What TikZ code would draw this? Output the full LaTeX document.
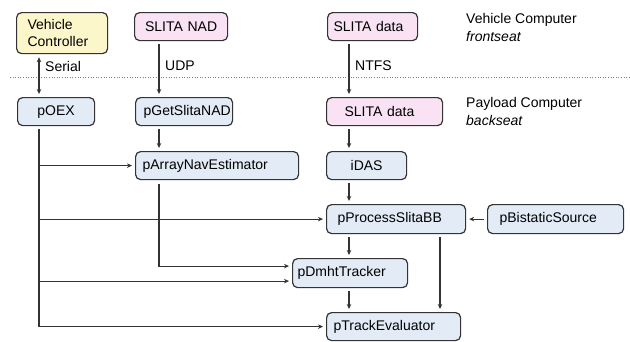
\documentclass[tikz,border=0pt]{standalone}
\usepackage{fontspec}
\setmainfont{Liberation Sans}
\usetikzlibrary{arrows.meta,calc}
\definecolor{linec}{HTML}{333333}
\definecolor{vfill}{HTML}{FBF7CB}
\definecolor{sfill}{HTML}{F8E2F4}
\definecolor{pfill}{HTML}{E3ECF6}
\tikzset{
  pbox/.style={draw=linec, line width=1.2pt, rounded corners=5pt,
    anchor=north west, inner xsep=8pt, inner ysep=0pt,
    minimum height=28pt, align=left, fill=pfill,
    font=\fontsize{14}{16.5}\selectfont},
  flow/.style={draw=linec, line width=1.1pt,
    -{Stealth[length=5pt,width=4.5pt]}},
  gap/.style={shorten >=3pt, shorten <=3pt},
  lbl/.style={font=\fontsize{14}{16.5}\selectfont, anchor=west, inner sep=0pt},
}
\begin{document}
\begin{tikzpicture}[x=1pt,y=-1pt]
\useasboundingbox (0,0) rectangle (630,341);

% frontseat / backseat separator
\draw[gray, line width=0.8pt, dash pattern=on 1pt off 1.6pt] (10,77) -- (630,77);

% vehicle computer
\node[pbox, fill=vfill, inner xsep=11pt, text width=69pt, minimum height=41pt] (vc) at (16,12) {Vehicle\\Controller};
\node[pbox, fill=sfill, text width=77pt, align=center] (nad) at (134,12) {SLITA NAD};
\node[pbox, fill=sfill, inner xsep=6pt, text width=78pt] (sd1) at (327,12) {SLITA data};

% payload computer
\node[pbox, text width=61pt, align=center] (poex) at (17,97) {pOEX};
\node[pbox, text width=81pt] (gsn) at (135,97) {pGetSlitaNAD};
\node[pbox, fill=sfill, inner xsep=18pt, text width=80pt] (sd2) at (326,97) {SLITA data};
\node[pbox, inner xsep=7pt, text width=149pt] (ane) at (135,151) {pArrayNavEstimator};
\node[pbox, text width=64pt, align=center] (idas) at (326,151) {iDAS};
\node[pbox, inner xsep=11pt, text width=117pt, minimum height=29pt] (psb) at (326,204) {pProcessSlitaBB};
\node[pbox, inner xsep=12pt, text width=112pt, minimum height=29pt] (pbs) at (487,204) {pBistaticSource};
\node[pbox, inner xsep=5pt, text width=105pt, minimum height=29pt] (dmt) at (292,258) {pDmhtTracker};
\node[pbox, inner xsep=7pt, text width=120pt] (pte) at (326,312) {pTrackEvaluator};

% side captions
\node[lbl] (vcap) at (466,20) {Vehicle Computer};
\node[lbl] (vsub) at (466,36) {\itshape frontseat};
\node[lbl] (pcap) at (466,104) {Payload Computer};
\node[lbl] (psub) at (466,120) {\itshape backseat};

% routing columns
\coordinate (cx1) at (39,0);
\coordinate (cx2) at (159,0);
\coordinate (cx3) at (349,0);
\coordinate (cx4) at (440,0);

% links across the separator
\draw[flow, gap, {Stealth[length=5pt,width=4.5pt]}-{Stealth[length=5pt,width=4.5pt]}]
  (vc.south -| cx1) -- (poex.north -| cx1);
\draw[flow, gap] (nad.south -| cx2) -- (gsn.north -| cx2);
\draw[flow, gap] (sd1.south -| cx3) -- (sd2.north -| cx3);
\node[lbl] (serial) at (45,66) {Serial};
\node[lbl] (udp) at (165,66) {UDP};
\node[lbl] (ntfs) at (355,66) {NTFS};

% backseat data flow
\draw[flow, gap] (gsn.south -| cx2) -- (ane.north -| cx2);
\draw[flow, gap] (sd2.south -| cx3) -- (idas.north -| cx3);
\draw[flow, gap] (idas.south -| cx3) -- (psb.north -| cx3);
\draw[flow, gap] (psb.south -| cx3) -- (dmt.north -| cx3);
\draw[flow, gap] (dmt.south -| cx3) -- (pte.north -| cx3);
\draw[flow, gap] (psb.south -| cx4) -- (pte.north -| cx4);
\draw[flow, gap] (pbs.west) -- (psb.east);
\draw[flow, shorten <=4pt, shorten >=3pt] (ane.south -| cx2) |- ($(dmt.west)+(0,-7)$);

% pOEX feeds
\draw[flow, shorten <=3pt, shorten >=3pt] (poex.south -| cx1) |- (pte.west);
\draw[flow, shorten >=3pt] (ane.west -| cx1) -- (ane.west);
\draw[flow, shorten >=3pt] (psb.west -| cx1) -- (psb.west);
\draw[flow, shorten >=3pt] ($(dmt.west -| cx1)+(0,8)$) -- ($(dmt.west)+(0,8)$);
\end{tikzpicture}
\end{document}
